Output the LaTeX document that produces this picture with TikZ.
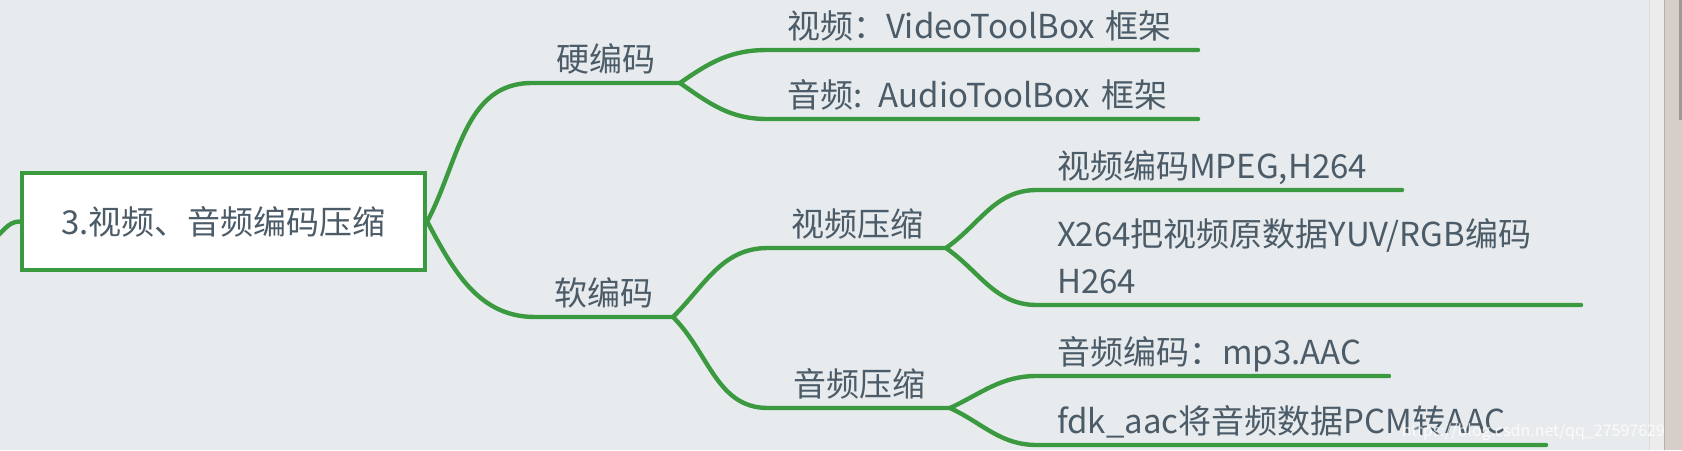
\documentclass[tikz,border=0pt]{standalone}
\usepackage{fontspec}
\setmainfont{Noto Sans CJK SC}
\usepackage{xcolor}
\usetikzlibrary{positioning}
\definecolor{mapbg}{HTML}{E7EBEE}
\definecolor{mapgreen}{HTML}{3B9A3F}
\definecolor{maptext}{HTML}{4B5B67}
\definecolor{barlight}{HTML}{ECECEC}
\definecolor{barbeige}{HTML}{D6CFC9}
\definecolor{barthumb}{HTML}{9C9A98}

\begin{document}
\begin{tikzpicture}[x=0.5pt,y=-0.5pt,
  branch/.style={draw=mapgreen,line width=2.2pt,line cap=round},
  topic/.style={anchor=south west,inner xsep=5pt,inner ysep=3.5pt,text depth=2.5pt,outer sep=0pt,
    align=center,text=maptext,font=\fontsize{16.5pt}{23.5pt}\selectfont},
  leaf/.style={topic,inner xsep=10pt,align=left}]
\fill[mapbg] (0,0) rectangle (1682,450);
\useasboundingbox (0,0) rectangle (1682,450);
\fill[barlight] (1649,0) rectangle (1664,450);
\fill[barbeige] (1664,0) rectangle (1682,450);
\fill[barthumb] (1679,0) rectangle (1682,120);
\draw[black!15] (1649,0) -- (1649,450);
\draw[black!30] (1664,0) -- (1664,450);

\node[draw=mapgreen,line width=2.2pt,fill=white,minimum width=201.5pt,minimum height=48.5pt,
  text=maptext,font=\fontsize{16.5pt}{23.5pt}\selectfont] (root) at (223.5,221.5) {3.视频、音频编码压缩};
\coordinate (prev) at (-8,240);

\node[topic,text width=64pt] (hard) at (532,83) {硬编码};
\node[leaf,text width=195.5pt] (hv) at (767,50) {视频：VideoToolBox 框架};
\node[leaf,text width=195.5pt] (ha) at (767,119) {音频: AudioToolBox 框架};
\node[topic,text width=59pt] (soft) at (535,317) {软编码};
\node[topic,text width=79pt] (svid) at (768,248) {视频压缩};
\node[topic,text width=81pt] (saud) at (768,408) {音频压缩};
\node[leaf,text width=162.5pt] (sv1) at (1037,190) {视频编码MPEG,H264};
\node[leaf,text width=252pt,text depth=26pt] (sv2) at (1037,305) {X264把视频原数据YUV/RGB编码\\H264};
\node[leaf,text width=156pt] (sa1) at (1037,376) {音频编码：mp3.AAC};
\node[leaf,text width=234.5pt] (sa2) at (1037,445) {fdk\_aac将音频数据PCM转AAC};

\draw[branch] (prev) to[out=30,in=180] (root.west);
\draw[branch] (root.east) to[out=62,in=180] (hard.south west) -- (hard.south east);
\draw[branch] (hard.south east) to[out=35,in=180] (hv.south west) -- (hv.south east);
\draw[branch] (hard.south east) to[out=-35,in=180] (ha.south west) -- (ha.south east);
\draw[branch] (root.east) to[out=-62,in=180] (soft.south west) -- (soft.south east);
\draw[branch] (soft.south east) to[out=45,in=180] (svid.south west) -- (svid.south east);
\draw[branch] (soft.south east) to[out=-45,in=180] (saud.south west) -- (saud.south east);
\draw[branch] (svid.south east) to[out=35,in=180] (sv1.south west) -- (sv1.south east);
\draw[branch] (svid.south east) to[out=-35,in=180] (sv2.south west) -- (sv2.south east);
\draw[branch] (saud.south east) to[out=25,in=180] (sa1.south west) -- (sa1.south east);
\draw[branch] (saud.south east) to[out=-25,in=180] (sa2.south west) -- (sa2.south east);

\node[anchor=east,text=white,opacity=0.8,font=\fontsize{8pt}{8pt}\selectfont] (mark) at (1672,432) {https://blog.csdn.net/qq\_27597629};
\end{tikzpicture}
\end{document}
